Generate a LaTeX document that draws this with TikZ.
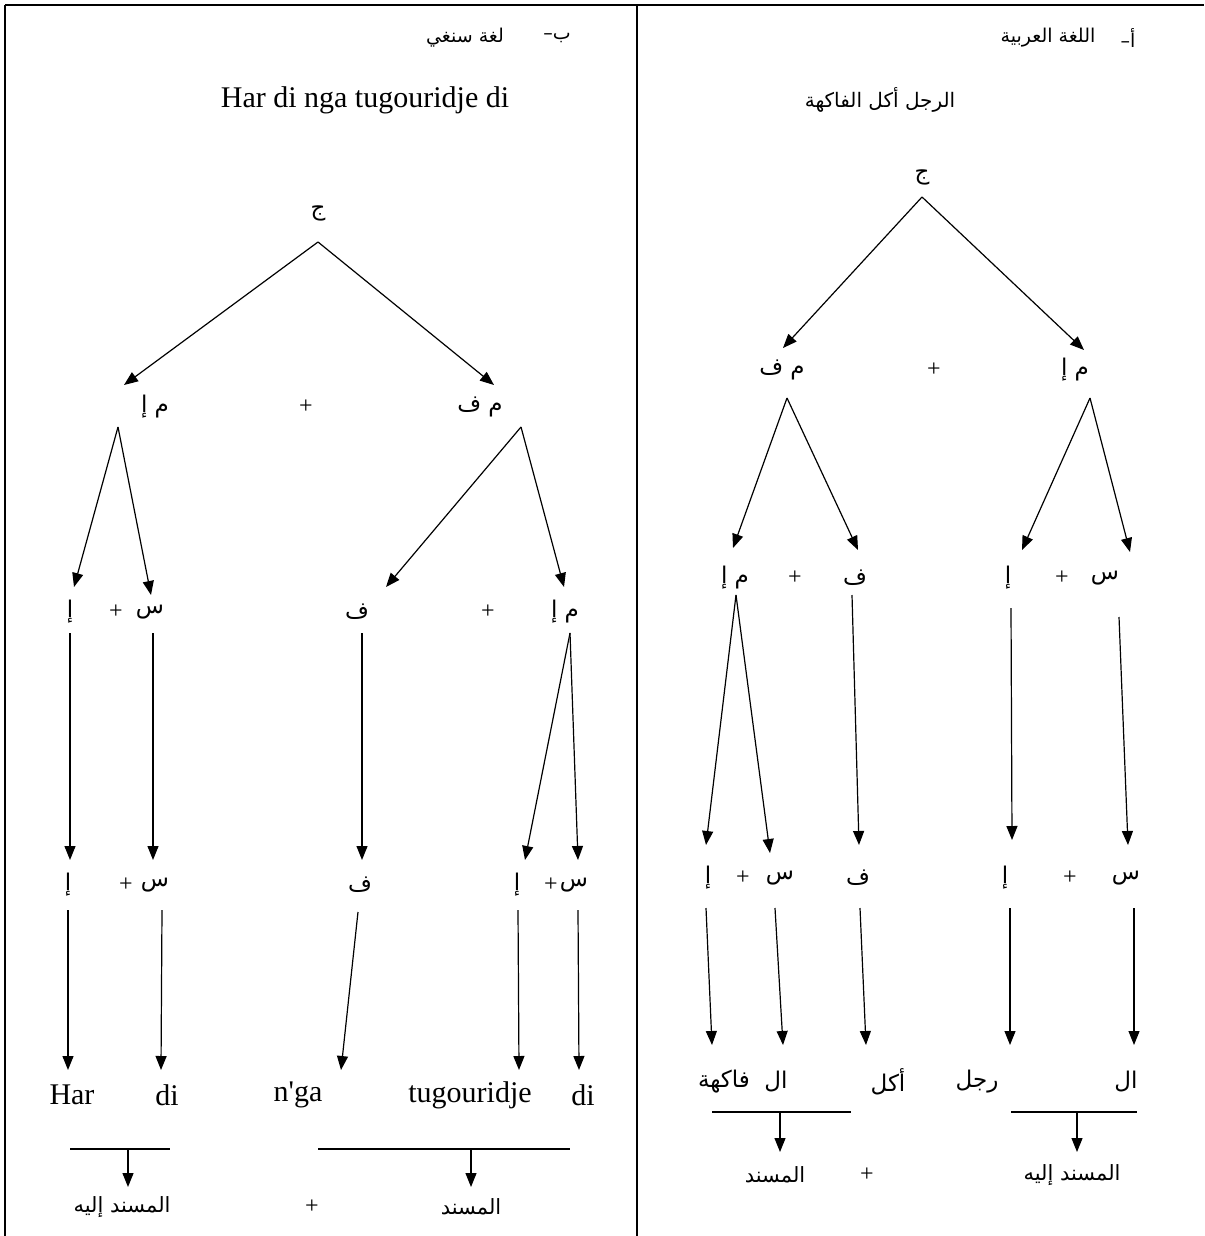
\documentclass[tikz,border=0pt]{standalone}
\usepackage{fontspec}
\usetikzlibrary{arrows.meta}
\TeXXeTstate=1
\newfontfamily\arfont[Script=Arabic]{DejaVu Sans}
\newfontfamily\latfont{Liberation Serif}
\newcommand\AR[1]{\beginR #1\endR}
\begin{document}
\begin{tikzpicture}[x=1pt,y=-1pt,
  ar/.style={font={\arfont\fontsize{23}{25}\selectfont},inner sep=0pt},
  arW/.style={font={\arfont\fontsize{21}{23}\selectfont},inner sep=0pt},
  arT/.style={font={\arfont\fontsize{20}{22}\selectfont},inner sep=0pt},
  arH/.style={font={\arfont\fontsize{19}{21}\selectfont},inner sep=0pt},
  la/.style={font={\latfont\fontsize{30}{32}\selectfont},inner sep=0pt},
  laW/.style={font={\latfont\fontsize{30}{32}\selectfont},inner sep=0pt},
  pl/.style={font={\latfont\fontsize{24}{26}\selectfont},inner sep=0pt},
  arr/.style={line width=1.2pt,-{Triangle[length=14pt,width=11pt]}},
  ln/.style={line width=1.2pt},
  frm/.style={line width=2.5pt}]
\useasboundingbox (0,0) rectangle (1204,1236);
% frame
\coordinate (fTL) at (5,5); \coordinate (fTR) at (1204,5);
\coordinate (fBL) at (5,1236); \coordinate (fMT) at (637,5); \coordinate (fMB) at (637,1236);
\draw[frm] (fTL) -- (fTR);
\draw[frm] (fTL) -- (fBL);
\draw[frm] (fMT) -- (fMB);

% ===== Left panel (b) =====
\node[arH] (bB) at (557,38) {\AR{ب–}};
\node[arH] (bT) at (465,38) {\AR{لغة سنغي}};
\node[la] (bTitle) at (365,100) {Har di nga tugouridje di};
\node[ar] (bJ) at (318,213) {\AR{ج}};
\node[ar] (b1a) at (155,407) {\AR{م إ}};
\node[pl] (b1p) at (306,407) {+};
\node[ar] (b1b) at (480,407) {\AR{م ف}};
\node[ar] (b2a) at (70,612) {\AR{إ}};
\node[pl] (b2p) at (116,612) {+};
\node[ar] (b2b) at (150,612) {\AR{س}};
\node[ar] (b2c) at (357,612) {\AR{ف}};
\node[pl] (b2q) at (488,612) {+};
\node[ar] (b2d) at (565,612) {\AR{م إ}};
\node[ar] (b3a) at (68,885) {\AR{إ}};
\node[pl] (b3p) at (126,885) {+};
\node[ar] (b3b) at (155,885) {\AR{س}};
\node[ar] (b3c) at (360,885) {\AR{ف}};
\node[ar] (b3d) at (517,885) {\AR{إ}};
\node[pl] (b3q) at (551,885) {+};
\node[ar] (b3e) at (574,885) {\AR{س}};
\node[laW] (bw1) at (72,1095) {Har};
\node[laW] (bw2) at (167,1095) {di};
\node[laW] (bw3) at (298,1095) {n'ga};
\node[laW] (bw4) at (470,1095) {tugouridje};
\node[laW] (bw5) at (583,1095) {di};
\node[arW] (bs1) at (122,1207) {\AR{المسند إليه}};
\node[pl] (bsp) at (312,1207) {+};
\node[arW] (bs2) at (471,1207) {\AR{المسند}};

\coordinate (bJs) at (318,242);
\coordinate (b1at) at (124,385); \coordinate (b1bt) at (494,385);
\draw[arr] (bJs) -- (b1at);
\draw[arr] (bJs) -- (b1bt);
\coordinate (b1as) at (118,427); \coordinate (b2at) at (74,587); \coordinate (b2bt) at (151,595);
\draw[arr] (b1as) -- (b2at);
\draw[arr] (b1as) -- (b2bt);
\coordinate (b1bs) at (521,427); \coordinate (b2ct) at (386,587); \coordinate (b2dt) at (564,587);
\draw[arr] (b1bs) -- (b2ct);
\draw[arr] (b1bs) -- (b2dt);
\coordinate (b2as) at (70,633); \coordinate (b3at) at (70,860);
\coordinate (b2bs) at (153,633); \coordinate (b3bt) at (153,860);
\coordinate (b2cs) at (362,633); \coordinate (b3ct) at (362,860);
\coordinate (b2ds) at (570,633); \coordinate (b3dt) at (525,860); \coordinate (b3et) at (578,860);
\draw[arr] (b2as) -- (b3at);
\draw[arr] (b2bs) -- (b3bt);
\draw[arr] (b2cs) -- (b3ct);
\draw[arr] (b2ds) -- (b3dt);
\draw[arr] (b2ds) -- (b3et);
\coordinate (b3as) at (68,910); \coordinate (bw1t) at (68,1070);
\coordinate (b3bs) at (162,910); \coordinate (bw2t) at (161,1070);
\coordinate (b3cs) at (358,912); \coordinate (bw3t) at (341,1070);
\coordinate (b3ds) at (518,910); \coordinate (bw4t) at (519,1070);
\coordinate (b3es) at (578,910); \coordinate (bw5t) at (579,1070);
\draw[arr] (b3as) -- (bw1t);
\draw[arr] (b3bs) -- (bw2t);
\draw[arr] (b3cs) -- (bw3t);
\draw[arr] (b3ds) -- (bw4t);
\draw[arr] (b3es) -- (bw5t);
\coordinate (bl1a) at (70,1149); \coordinate (bl1b) at (170,1149);
\coordinate (bl2a) at (318,1149); \coordinate (bl2b) at (570,1149);
\draw[ln] (bl1a) -- (bl1b);
\draw[ln] (bl2a) -- (bl2b);
\coordinate (bl1m) at (128,1149); \coordinate (bs1t) at (128,1187);
\coordinate (bl2m) at (471,1149); \coordinate (bs2t) at (471,1187);
\draw[arr] (bl1m) -- (bs1t);
\draw[arr] (bl2m) -- (bs2t);

% ===== Right panel (a) =====
\node[arH] (aA) at (1128,38) {\AR{أ–}};
\node[arH] (aT) at (1048,38) {\AR{اللغة العربية}};
\node[arT] (aTitle) at (880,100) {\AR{الرجل أكل الفاكهة}};
\node[ar] (aJ) at (922,177) {\AR{ج}};
\node[ar] (a1a) at (782,370) {\AR{م ف}};
\node[pl] (a1p) at (934,370) {+};
\node[ar] (a1b) at (1075,370) {\AR{م إ}};
\node[ar] (a2a) at (735,578) {\AR{م إ}};
\node[pl] (a2p) at (795,578) {+};
\node[ar] (a2b) at (855,578) {\AR{ف}};
\node[ar] (a2c) at (1008,578) {\AR{إ}};
\node[pl] (a2q) at (1062,578) {+};
\node[ar] (a2d) at (1105,578) {\AR{س}};
\node[ar] (a3a) at (708,878) {\AR{إ}};
\node[pl] (a3p) at (743,878) {+};
\node[ar] (a3b) at (780,878) {\AR{س}};
\node[ar] (a3c) at (858,878) {\AR{ف}};
\node[ar] (a3d) at (1005,878) {\AR{إ}};
\node[pl] (a3q) at (1070,878) {+};
\node[ar] (a3e) at (1126,878) {\AR{س}};
\node[ar] (aw1) at (724,1082) {\AR{فاكهة}};
\node[ar] (aw2) at (776,1082) {\AR{ال}};
\node[ar] (aw3) at (888,1082) {\AR{أكل}};
\node[ar] (aw4) at (977,1082) {\AR{رجل}};
\node[ar] (aw5) at (1126,1082) {\AR{ال}};
\node[arW] (as1) at (775,1175) {\AR{المسند}};
\node[pl] (asp) at (867,1175) {+};
\node[arW] (as2) at (1072,1175) {\AR{المسند إليه}};

\coordinate (aJs) at (922,197);
\coordinate (a1at) at (783,348); \coordinate (a1bt) at (1084,350);
\draw[arr] (aJs) -- (a1at);
\draw[arr] (aJs) -- (a1bt);
\coordinate (a1as) at (787,398); \coordinate (a2at) at (733,548); \coordinate (a2bt) at (858,550);
\draw[arr] (a1as) -- (a2at);
\draw[arr] (a1as) -- (a2bt);
\coordinate (a1bs) at (1090,398); \coordinate (a2ct) at (1022,550); \coordinate (a2dt) at (1130,552);
\draw[arr] (a1bs) -- (a2ct);
\draw[arr] (a1bs) -- (a2dt);
\coordinate (a2as) at (736,595); \coordinate (a3at) at (706,845); \coordinate (a3bt) at (770,853);
\draw[arr] (a2as) -- (a3at);
\draw[arr] (a2as) -- (a3bt);
\coordinate (a2bs) at (852,595); \coordinate (a3ct) at (859,845);
\draw[arr] (a2bs) -- (a3ct);
\coordinate (a2cs) at (1011,608); \coordinate (a3dt) at (1012,840);
\draw[arr] (a2cs) -- (a3dt);
\coordinate (a2ds) at (1119,617); \coordinate (a3et) at (1128,845);
\draw[arr] (a2ds) -- (a3et);
\coordinate (a3as) at (706,908); \coordinate (aw1t) at (712,1045);
\coordinate (a3bs) at (775,908); \coordinate (aw2t) at (783,1045);
\coordinate (a3cs) at (860,908); \coordinate (aw3t) at (866,1045);
\coordinate (a3ds) at (1010,908); \coordinate (aw4t) at (1010,1045);
\coordinate (a3es) at (1134,908); \coordinate (aw5t) at (1134,1045);
\draw[arr] (a3as) -- (aw1t);
\draw[arr] (a3bs) -- (aw2t);
\draw[arr] (a3cs) -- (aw3t);
\draw[arr] (a3ds) -- (aw4t);
\draw[arr] (a3es) -- (aw5t);
\coordinate (al1a) at (712,1112); \coordinate (al1b) at (851,1112);
\coordinate (al2a) at (1011,1112); \coordinate (al2b) at (1137,1112);
\draw[ln] (al1a) -- (al1b);
\draw[ln] (al2a) -- (al2b);
\coordinate (al1m) at (780,1112); \coordinate (as1t) at (780,1152);
\coordinate (al2m) at (1077,1112); \coordinate (as2t) at (1077,1152);
\draw[arr] (al1m) -- (as1t);
\draw[arr] (al2m) -- (as2t);
\end{tikzpicture}
\end{document}
